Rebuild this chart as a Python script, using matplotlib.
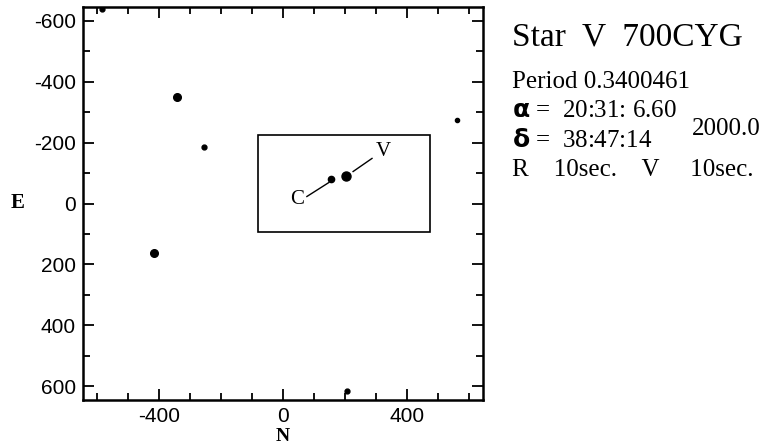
import numpy as np
import matplotlib
matplotlib.use("Agg")
import matplotlib.pyplot as plt
from matplotlib.patches import Rectangle
from matplotlib.ticker import MultipleLocator

plt.rcParams["axes.unicode_minus"] = False

# field stars: N offset, E offset, dot size (pt)
star_n = [-342, -255, -416, 561, 206, 155, 203, -585]
star_e = [-351, -184, 161, -275, 616, -79, -89, -640]
star_ms = [5.5, 3.5, 5.5, 3.0, 3.5, 4.5, 6.5, 3.5]

# comparison / variable marker lines and labels
line_c = ([77, 148], [-23, -69])
line_v = ([226, 287], [-105, -148])
lab_c = (45, -13, "C")
lab_v = (322, -170, "V")
box = (-80, -225, 555, 320)  # x0, y0, width, height

title = "Star  V  700CYG"
info_lines = ["Period 0.3400461", r"$\mathbf{\alpha}$ =  20:31: 6.60",
              r"$\mathbf{\delta}$ =  38:47:14", "R    10sec.    V     10sec."]
epoch = "2000.0"

serif = ["Liberation Serif", "DejaVu Serif"]
sans = ["Liberation Sans", "DejaVu Sans"]

fig = plt.figure(figsize=(7.65, 4.46), dpi=100)
ax = fig.add_axes([0.1085, 0.1031, 0.5229, 0.8812])

for n, e, s in zip(star_n, star_e, star_ms):
    ax.plot(n, e, "ko", markersize=s)

ax.plot(*line_c, "k-", lw=1.0)
ax.plot(*line_v, "k-", lw=1.0)
for x, y, t in (lab_c, lab_v):
    ax.text(x, y, t, ha="center", va="center", fontsize=15, family=serif)
ax.add_patch(Rectangle(box[:2], box[2], box[3], fill=False, lw=1.2, ec="k"))

ax.set_xlim(-645, 645)
ax.set_ylim(645, -645)
ax.xaxis.set_major_locator(MultipleLocator(400))
ax.xaxis.set_minor_locator(MultipleLocator(100))
ax.yaxis.set_major_locator(MultipleLocator(200))
ax.yaxis.set_minor_locator(MultipleLocator(100))
ax.tick_params(which="both", direction="in", top=True, right=True, width=1.3)
ax.tick_params(which="major", length=8, labelsize=15, pad=5)
ax.tick_params(which="minor", length=5)
for lab in ax.get_xticklabels() + ax.get_yticklabels():
    lab.set_family(sans)
for sp in ax.spines.values():
    sp.set_linewidth(1.8)

# axis names placed in figure pixels
fig.text(18 / 765, 1 - 203 / 446, "E", fontsize=15, fontweight="bold",
         family=serif, ha="center", va="center")
fig.text(283 / 765, 1 - 441 / 446, "N", fontsize=14, fontweight="bold",
         family=serif, ha="center", va="baseline")

fig.text(0.669, 1 - 45 / 446, title, fontsize=24, family=serif, va="baseline")
for i, t in enumerate(info_lines):
    fig.text(0.669, 1 - (88 + 29.3 * i) / 446, t, fontsize=18, family=serif,
             va="baseline")
fig.text(0.904, 1 - 135 / 446, epoch, fontsize=18, family=serif, va="baseline")

fig.savefig("out.png", dpi=100)
